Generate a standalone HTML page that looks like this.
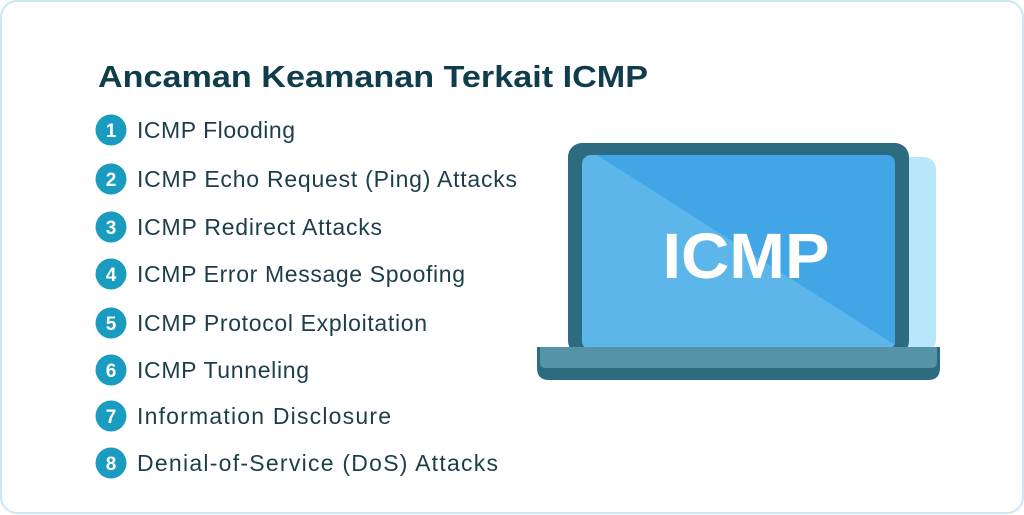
<!DOCTYPE html>
<html><head><meta charset="utf-8"><style>
html,body{margin:0;padding:0;background:#fff;width:1024px;height:515px;overflow:hidden}
</style></head><body>
<svg width="1024" height="515" viewBox="0 0 1024 515" xmlns="http://www.w3.org/2000/svg" font-family="Liberation Sans, sans-serif">
<rect x="1" y="1" width="1022" height="512" rx="16" fill="#fff" stroke="#c9e8f2" stroke-width="2"/>
<text x="98" y="87" font-size="31" font-weight="bold" fill="#0f3d4c" textLength="550" lengthAdjust="spacingAndGlyphs">Ancaman Keamanan Terkait ICMP</text>
<g fill="#1a9cc0">
<circle cx="111" cy="130" r="15.5"/><circle cx="111" cy="179" r="15.5"/><circle cx="111" cy="227" r="15.5"/><circle cx="111" cy="274" r="15.5"/>
<circle cx="111" cy="323" r="15.5"/><circle cx="111" cy="370" r="15.5"/><circle cx="111" cy="416" r="15.5"/><circle cx="111" cy="463" r="15.5"/>
</g>
<g fill="#fff" font-size="19" font-weight="bold" text-anchor="middle">
<text x="111" y="137">1</text><text x="111" y="186">2</text><text x="111" y="234">3</text><text x="111" y="281">4</text>
<text x="111" y="330">5</text><text x="111" y="377">6</text><text x="111" y="423">7</text><text x="111" y="470">8</text>
</g>
<g fill="#1b3e4a" font-size="23" lengthAdjust="spacingAndGlyphs">
<text x="137" y="138" textLength="158">ICMP Flooding</text>
<text x="137" y="187" textLength="380">ICMP Echo Request (Ping) Attacks</text>
<text x="137" y="235" textLength="245">ICMP Redirect Attacks</text>
<text x="137" y="282" textLength="328">ICMP Error Message Spoofing</text>
<text x="137" y="331" textLength="290">ICMP Protocol Exploitation</text>
<text x="137" y="378" textLength="172">ICMP Tunneling</text>
<text x="137" y="424" textLength="254">Information Disclosure</text>
<text x="137" y="471" textLength="361">Denial-of-Service (DoS) Attacks</text>
</g>
<rect x="880" y="157" width="56" height="195" rx="12" fill="#b8e6fa"/>
<rect x="568" y="143" width="341" height="212" rx="14" fill="#2d6b80"/>
<rect x="582" y="155" width="313" height="195" rx="9" fill="#5db6ea"/>
<path d="M597 155 L886 155 Q895 155 895 164 L895 345 Z" fill="#42a5e6"/>
<text x="746" y="278" font-size="64" font-weight="bold" fill="#fff" text-anchor="middle" textLength="167" lengthAdjust="spacingAndGlyphs">ICMP</text>
<path d="M537 347 L940 347 L940 368 Q940 380 928 380 L549 380 Q537 380 537 368 Z" fill="#2d6b80"/>
<path d="M540 347 L937 347 L937 362 Q937 368 931 368 L546 368 Q540 368 540 362 Z" fill="#5494a6"/>
</svg>
</body></html>
